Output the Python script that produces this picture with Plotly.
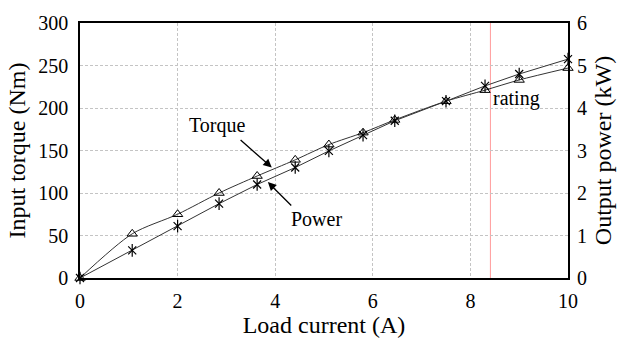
import plotly.graph_objects as go

current = [0, 1.07, 2.0, 2.85, 3.63, 4.41, 5.1, 5.8, 6.45, 7.5, 8.3, 9.0, 10.0]
torque = [0, 52, 75, 100, 120, 139, 157, 171, 186, 208, 221, 233, 247]
power = [0, 0.65, 1.22, 1.75, 2.2, 2.6, 2.99, 3.36, 3.7, 4.16, 4.52, 4.8, 5.15]
rating_current = 8.41

FONT = "Liberation Serif, Times New Roman, serif"
LC = "#333333"

fig = go.Figure()
fig.add_trace(go.Scatter(x=current, y=torque, mode="lines+markers",
                         line=dict(color=LC, width=1, shape="spline", smoothing=0.8),
                         marker=dict(symbol="triangle-up-open", size=9, color="black",
                                     line=dict(width=1)),
                         cliponaxis=False, showlegend=False))
fig.add_trace(go.Scatter(x=current, y=power, yaxis="y2", mode="lines+markers",
                         line=dict(color=LC, width=1),
                         marker=dict(symbol="x-thin-open", size=8, color="black",
                                     line=dict(width=1.2, color="black")),
                         cliponaxis=False, showlegend=False))
fig.add_trace(go.Scatter(x=current, y=power, yaxis="y2", mode="markers",
                         marker=dict(symbol="line-ns-open", size=9, color="black",
                                     line=dict(width=1.2, color="black")),
                         cliponaxis=False, showlegend=False))

fig.add_shape(type="line", x0=rating_current, x1=rating_current, y0=0, y1=300,
              xref="x", yref="y", line=dict(color="rgba(255,110,110,0.7)", width=1), layer="below")

fig.add_annotation(x=3.93, y=130, ax=3.26, ay=164, xref="x", yref="y", axref="x", ayref="y",
                   showarrow=True, arrowhead=2, arrowsize=1.3, arrowwidth=1.3, arrowcolor="black",
                   text="")
fig.add_annotation(x=2.80, y=179, xref="x", yref="y", text="Torque", showarrow=False,
                   font=dict(family=FONT, size=20, color="black"))
fig.add_annotation(x=3.85, y=112.8, ax=4.36, ay=83.5, xref="x", yref="y", axref="x", ayref="y",
                   showarrow=True, arrowhead=2, arrowsize=1.3, arrowwidth=1.3, arrowcolor="black",
                   text="")
fig.add_annotation(x=4.85, y=69, xref="x", yref="y", text="Power", showarrow=False,
                   font=dict(family=FONT, size=20, color="black"))
fig.add_annotation(x=rating_current + 0.02, y=211, xref="x", yref="y", text="rating",
                   showarrow=False, xanchor="left",
                   font=dict(family=FONT, size=20, color="black"))

grid = dict(showgrid=True, gridcolor="#c4c4c4", griddash="3px,2px", gridwidth=1)
fig.update_layout(
    width=626, height=343,
    margin=dict(l=80, r=58, t=14, b=55),
    paper_bgcolor="white", plot_bgcolor="white",
    font=dict(family=FONT, size=20, color="black"),
    xaxis=dict(range=[0, 10], dtick=2, showline=True, linecolor="black", linewidth=1.5,
               mirror=True, ticks="", ticklabelstandoff=4, zeroline=False,
               title=dict(text="Load current (A)", standoff=2), **grid),
    yaxis=dict(range=[0, 300], dtick=50, showline=True, linecolor="black", linewidth=1.5,
               mirror=True, ticks="", ticklabelstandoff=6, zeroline=False,
               title=dict(text="Input torque (Nm)", standoff=6), **grid),
    yaxis2=dict(range=[0, 6], dtick=1, overlaying="y", side="right", showgrid=False,
                ticks="", ticklabelstandoff=8, zeroline=False, showline=False,
                title=dict(text="Output power (kW)", standoff=8)),
)

fig.write_html("out.html")
